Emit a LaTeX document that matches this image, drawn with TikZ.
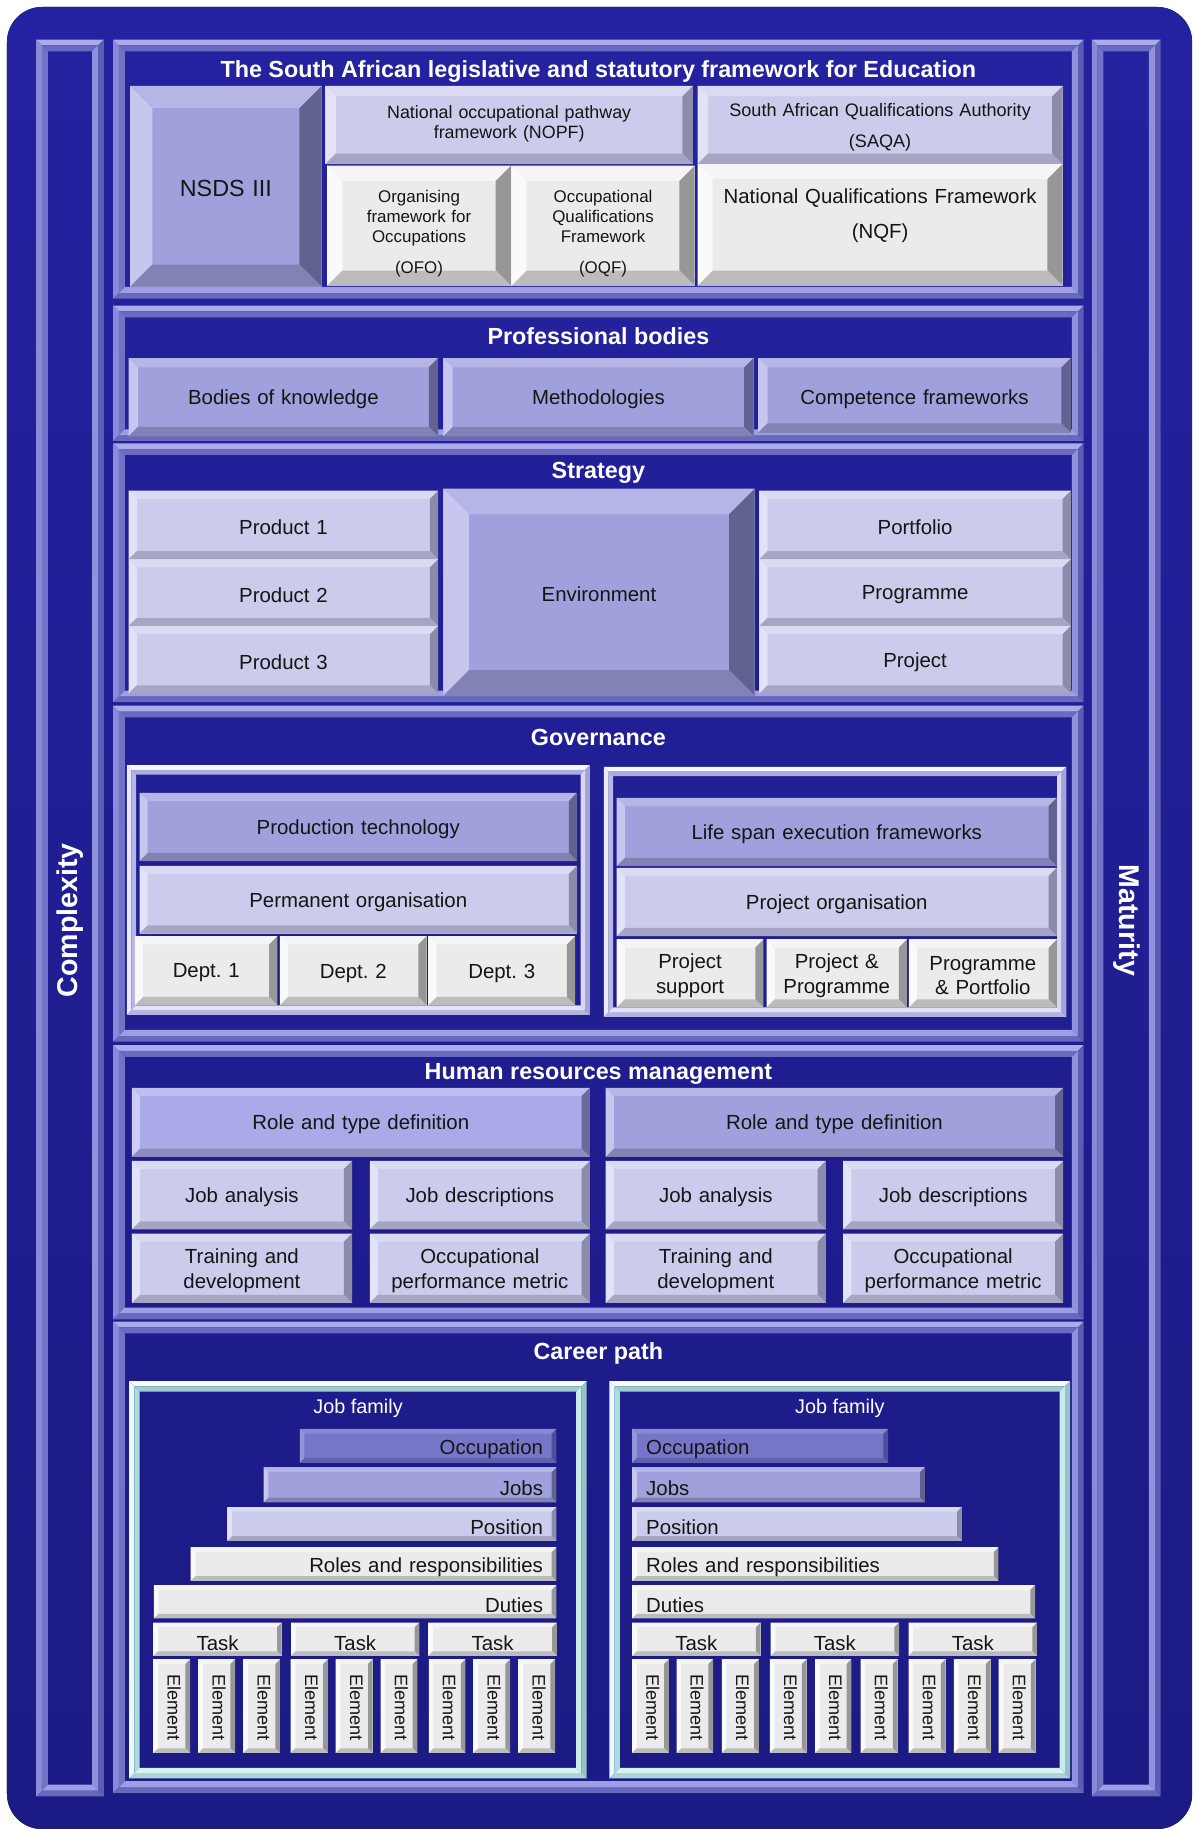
\documentclass[tikz,border=0pt]{standalone}
\usepackage{fontspec}
\setmainfont{Liberation Sans}
\definecolor{bgA}{HTML}{2422A0}
\definecolor{bgB}{HTML}{1C1A84}
\definecolor{ink}{HTML}{151515}
% box schemes
\definecolor{cPF}{HTML}{A0A0DC}\definecolor{cPT}{HTML}{B6B6E6}\definecolor{cPL}{HTML}{C6C6EE}\definecolor{cPR}{HTML}{626290}\definecolor{cPB}{HTML}{8282B4}
\definecolor{cQF}{HTML}{AAAAE8}\definecolor{cQT}{HTML}{BEBEF0}\definecolor{cQL}{HTML}{CCCCF4}\definecolor{cQR}{HTML}{6A6A9C}\definecolor{cQB}{HTML}{8C8CC0}
\definecolor{cLF}{HTML}{CBCBEB}\definecolor{cLT}{HTML}{DADAF3}\definecolor{cLL}{HTML}{E2E2F8}\definecolor{cLR}{HTML}{8C8CAA}\definecolor{cLB}{HTML}{A6A6C4}
\definecolor{cGF}{HTML}{EBEBEB}\definecolor{cGT}{HTML}{F5F5F5}\definecolor{cGL}{HTML}{FAFAFA}\definecolor{cGR}{HTML}{979797}\definecolor{cGB}{HTML}{BCBCBC}
\definecolor{cOF}{HTML}{7676C8}\definecolor{cOT}{HTML}{8A8AD2}\definecolor{cOL}{HTML}{9494DA}\definecolor{cOR}{HTML}{4E4E9C}\definecolor{cOB}{HTML}{6060AE}
% frame schemes
\definecolor{fPoT}{HTML}{ABABEC}\definecolor{fPoL}{HTML}{8A8AD8}\definecolor{fPoR}{HTML}{5C5CB2}\definecolor{fPoB}{HTML}{6868BC}
\definecolor{fPiT}{HTML}{6A6AC0}\definecolor{fPiL}{HTML}{7272C6}\definecolor{fPiR}{HTML}{9090DC}\definecolor{fPiB}{HTML}{9E9EE4}
\definecolor{fWoT}{HTML}{F8F8FF}\definecolor{fWoL}{HTML}{EAEAFA}\definecolor{fWoR}{HTML}{A4A4D4}\definecolor{fWoB}{HTML}{B4B4E0}
\definecolor{fWiT}{HTML}{ACACDC}\definecolor{fWiL}{HTML}{B8B8E6}\definecolor{fWiR}{HTML}{D8D8F6}\definecolor{fWiB}{HTML}{E2E2FA}
\definecolor{fCoT}{HTML}{F6FFFF}\definecolor{fCoL}{HTML}{E8FAFA}\definecolor{fCoR}{HTML}{96C4C4}\definecolor{fCoB}{HTML}{A8D6D6}
\definecolor{fCiT}{HTML}{9ECECE}\definecolor{fCiL}{HTML}{ACDCDC}\definecolor{fCiR}{HTML}{C8ECEC}\definecolor{fCiB}{HTML}{D6F2F2}

\tikzset{
  txt/.style={font=\fontsize{17.5}{21}\selectfont, text=ink, inner sep=0pt, align=center, yshift=-2pt},
  txtS/.style={font=\fontsize{14.5}{17}\selectfont},
  elem/.style={font=\fontsize{15.5}{18}\selectfont, rotate=-90, text width=60pt, yshift=2pt, xshift=-1pt},
  ttl/.style={font=\bfseries\fontsize{20}{24}\selectfont, text=white, inner sep=0pt, yshift=-2pt},
  jf/.style={font=\fontsize{17}{20}\selectfont, text=white, inner sep=0pt},
}
% ring of four bevel trapezoids: x1,y1,x2,y2,width,top,left,right,bottom
\newcommand\bevring[9]{%
  \fill[#6] ({#1},{#2}) -- ({#3},{#2}) -- ({#3-#5},{#2+#5}) -- ({#1+#5},{#2+#5}) -- cycle;
  \fill[#7] ({#1},{#2}) -- ({#1+#5},{#2+#5}) -- ({#1+#5},{#4-#5}) -- ({#1},{#4}) -- cycle;
  \fill[#8] ({#3},{#2}) -- ({#3},{#4}) -- ({#3-#5},{#4-#5}) -- ({#3-#5},{#2+#5}) -- cycle;
  \fill[#9] ({#1},{#4}) -- ({#3},{#4}) -- ({#3-#5},{#4-#5}) -- ({#1+#5},{#4-#5}) -- cycle;
}
% bevelled box: name,x1,y1,x2,y2,bevel,scheme,text,node options
\newcommand\bevbox[9]{%
  \fill[#7F] ({#2},{#3}) rectangle ({#4},{#5});
  \bevring{#2}{#3}{#4}{#5}{#6}{#7T}{#7L}{#7R}{#7B}%
  \pgfmathsetmacro\bxw{#4-#2-2*#6-6}%
  \node[txt, text width=\bxw pt, #9] (#1) at ({(#2+#4)/2},{(#3+#5)/2}) {#8};%
}
% raised frame band: x1,y1,x2,y2,band width,scheme
\newcommand\bevframe[6]{%
  \bevring{#1}{#2}{#3}{#4}{#5/2}{#6oT}{#6oL}{#6oR}{#6oB}%
  \bevring{#1+#5/2}{#2+#5/2}{#3-#5/2}{#4-#5/2}{#5/2}{#6iT}{#6iL}{#6iR}{#6iB}%
}

\begin{document}
\begin{tikzpicture}[x=1pt,y=-1pt]
\useasboundingbox (0,0) rectangle (1022,1568);
\fill[top color=bgA, bottom color=bgB, rounded corners=30pt] (6,6) rectangle (1022,1568);

% side bars
\bevframe{31}{34}{89}{1540}{10}{fP}
\bevframe{936}{34}{995}{1540}{10}{fP}
\node[ttl, font=\bfseries\fontsize{24.5}{28}\selectfont, rotate=90, yshift=2pt] (complexity) at (62,787) {Complexity};
\node[ttl, font=\bfseries\fontsize{24.5}{28}\selectfont, rotate=-90, yshift=2pt] (maturity) at (964,787) {Maturity};

% section frames
\bevframe{97}{34}{929}{256}{10}{fP}
\bevframe{97}{262}{929}{378}{10}{fP}
\bevframe{97}{380}{929}{602}{10}{fP}
\bevframe{97}{605}{929}{893}{10}{fP}
\bevframe{97}{896}{929}{1131}{10}{fP}
\bevframe{97}{1133}{929}{1537}{10}{fP}

% 1 legislative
\node[ttl] (tleg) at (513,59) {The South African legislative and statutory framework for Education};
\bevbox{nsds}{111.6}{73.7}{275.7}{245.8}{19}{cP}{NSDS III}{font=\fontsize{20}{24}\selectfont}
\bevbox{nopf}{279}{73.7}{594}{140.6}{9}{cL}{National occupational pathway\\framework (NOPF)}{font=\fontsize{15.3}{17}\selectfont, yshift=3pt}
\bevbox{ofo}{280.5}{142}{438}{245}{13}{cG}{Organising\\framework for\\Occupations\\[10pt](OFO)}{txtS, yshift=-5pt}
\bevbox{oqf}{438.5}{142}{595.5}{245}{13}{cG}{Occupational\\Qualifications\\Framework\\[10pt](OQF)}{txtS, yshift=-5pt}
\bevbox{saqa}{598}{73.7}{911}{140.6}{9}{cL}{South African Qualifications Authority\\[9pt](SAQA)}{font=\fontsize{15.5}{17}\selectfont}
\bevbox{nqf}{598}{140.6}{911}{245}{13}{cG}{National Qualifications Framework\\[9pt](NQF)}{yshift=10pt}

% 2 professional bodies
\node[ttl] (tprof) at (513,286) {Professional bodies};
\bevbox{bok}{110.3}{307}{375.6}{374}{8}{cP}{Bodies of knowledge}{}
\bevbox{meth}{380}{307}{646}{374}{8}{cP}{Methodologies}{}
\bevbox{comp}{650}{307}{918}{371}{8}{cP}{Competence frameworks}{yshift=-1pt}

% 3 strategy
\node[ttl] (tstrat) at (513,403) {Strategy};
\bevbox{p1}{110.3}{420.7}{375.6}{479.5}{7}{cL}{Product 1}{}
\bevbox{p2}{110.3}{479.5}{375.6}{536.7}{7}{cL}{Product 2}{}
\bevbox{p3}{110.3}{536.7}{375.6}{594.5}{7}{cL}{Product 3}{}
\bevbox{env}{380}{419}{647}{596.5}{22}{cP}{Environment}{}
\bevbox{port}{651}{420.7}{918}{479.5}{7}{cL}{Portfolio}{}
\bevbox{prog}{651}{479.5}{918}{536.7}{7}{cL}{Programme}{}
\bevbox{proj}{651}{536.7}{918}{594.5}{7}{cL}{Project}{}

% 4 governance
\node[ttl] (tgov) at (513,630) {Governance};
\bevframe{108.7}{656}{505.7}{870}{8}{fW}
\bevframe{517.7}{657.4}{914.2}{871.7}{8}{fW}
\bevbox{prodtech}{119.6}{679.7}{494.7}{738.2}{7}{cP}{Production technology}{}
\bevbox{permorg}{119.6}{742.3}{494.7}{800.3}{7}{cL}{Permanent organisation}{}
\bevbox{d1}{115.8}{802.6}{237.8}{861.7}{7}{cG}{Dept.\ 1}{}
\bevbox{d2}{240}{802.6}{365.7}{861.7}{7}{cG}{Dept.\ 2}{}
\bevbox{d3}{367.3}{802.6}{493}{861.7}{7}{cG}{Dept.\ 3}{}
\bevbox{lifespan}{528.7}{684}{906}{742.5}{7}{cP}{Life span execution frameworks}{}
\bevbox{projorg}{528.7}{744}{906}{802.5}{7}{cL}{Project organisation}{}
\bevbox{psup}{528.7}{805.4}{654.5}{863.7}{7}{cG}{Project\\support}{}
\bevbox{ppg}{657.2}{805.4}{777.5}{863.7}{7}{cG}{Project \&\\Programme}{}
\bevbox{ppf}{779.1}{805.4}{906}{863.7}{7}{cG}{Programme\\\& Portfolio}{}

% 5 human resources
\node[ttl] (thr) at (513,919) {Human resources management};
\bevbox{roleL}{113}{932.6}{505.7}{991.8}{7}{cQ}{Role and type definition}{}
\bevbox{roleR}{519.3}{932.6}{911.5}{991.8}{7}{cP}{Role and type definition}{}
\bevbox{jaL}{113}{995.2}{301.8}{1054}{7}{cL}{Job analysis}{}
\bevbox{jdL}{317}{995.2}{505.7}{1054}{7}{cL}{Job descriptions}{}
\bevbox{jaR}{519.3}{995.2}{708}{1054}{7}{cL}{Job analysis}{}
\bevbox{jdR}{722.8}{995.2}{911.5}{1054}{7}{cL}{Job descriptions}{}
\bevbox{tdL}{113}{1057.5}{301.8}{1117}{7}{cL}{Training and\\development}{}
\bevbox{opL}{317}{1057.5}{505.7}{1117}{7}{cL}{Occupational\\performance metric}{}
\bevbox{tdR}{519.3}{1057.5}{708}{1117}{7}{cL}{Training and\\development}{}
\bevbox{opR}{722.8}{1057.5}{911.5}{1117}{7}{cL}{Occupational\\performance metric}{}

% 6 career path
\node[ttl] (tcar) at (513,1158) {Career path};
\bevframe{110.7}{1184}{503}{1524.5}{9}{fC}
\bevframe{522.5}{1184}{917.4}{1524.5}{9}{fC}
\node[jf] (jfL) at (307,1207) {Job family};
\node[jf] (jfR) at (720,1207) {Job family};

\bevbox{occL}{257}{1225}{477}{1254}{4}{cO}{Occupation}{align=right, xshift=-4.5pt, yshift=-1pt}
\bevbox{jobsL}{226}{1258}{477}{1288}{4}{cP}{Jobs}{align=right, xshift=-4.5pt, yshift=-1pt}
\bevbox{posL}{195}{1292}{477}{1321}{4}{cL}{Position}{align=right, xshift=-4.5pt, yshift=-1pt}
\bevbox{rolesL}{163.5}{1326.6}{477}{1355.3}{4}{cG}{Roles and responsibilities}{align=right, xshift=-4.5pt, yshift=-1pt}
\bevbox{dutL}{132}{1359}{477}{1387.5}{4}{cG}{Duties}{align=right, xshift=-4.5pt, yshift=-1pt}
\bevbox{taskL1}{131.5}{1391}{241.5}{1419.6}{4}{cG}{Task}{yshift=-1pt}
\bevbox{taskL2}{249.5}{1391}{359.5}{1419.6}{4}{cG}{Task}{yshift=-1pt}
\bevbox{taskL3}{367.2}{1391}{477.3}{1419.6}{4}{cG}{Task}{yshift=-1pt}
\foreach \xa/\xb [count=\i] in {131.5/163, 170/201.5, 208.6/240, 249.2/281, 287.8/319.5, 326.4/357.8, 367.6/399, 405.8/437.3, 444.4/475.9}
  {\bevbox{elL\i}{\xa}{1422.5}{\xb}{1502.8}{4}{cG}{Element}{elem}}

\bevbox{occR}{542}{1225}{761.4}{1254}{4}{cO}{Occupation}{align=left, xshift=5pt, yshift=-1pt}
\bevbox{jobsR}{542}{1258}{792.8}{1288}{4}{cP}{Jobs}{align=left, xshift=5pt, yshift=-1pt}
\bevbox{posR}{542}{1292}{824.5}{1321}{4}{cL}{Position}{align=left, xshift=5pt, yshift=-1pt}
\bevbox{rolesR}{542}{1326.6}{856}{1355.3}{4}{cG}{Roles and responsibilities}{align=left, xshift=5pt, yshift=-1pt}
\bevbox{dutR}{542}{1359}{887.3}{1387.5}{4}{cG}{Duties}{align=left, xshift=5pt, yshift=-1pt}
\bevbox{taskR1}{542}{1391}{652}{1419.6}{4}{cG}{Task}{yshift=-1pt}
\bevbox{taskR2}{660.7}{1391}{770.8}{1419.6}{4}{cG}{Task}{yshift=-1pt}
\bevbox{taskR3}{778.9}{1391}{889}{1419.6}{4}{cG}{Task}{yshift=-1pt}
\foreach \xa/\xb [count=\i] in {542/573.4, 580/611.3, 618.8/650.5, 660.1/691.5, 698.8/729.8, 737.8/769.5, 779/810.6, 817.8/849.2, 856.1/887.8}
  {\bevbox{elR\i}{\xa}{1422.5}{\xb}{1502.8}{4}{cG}{Element}{elem}}
\end{tikzpicture}
\end{document}
